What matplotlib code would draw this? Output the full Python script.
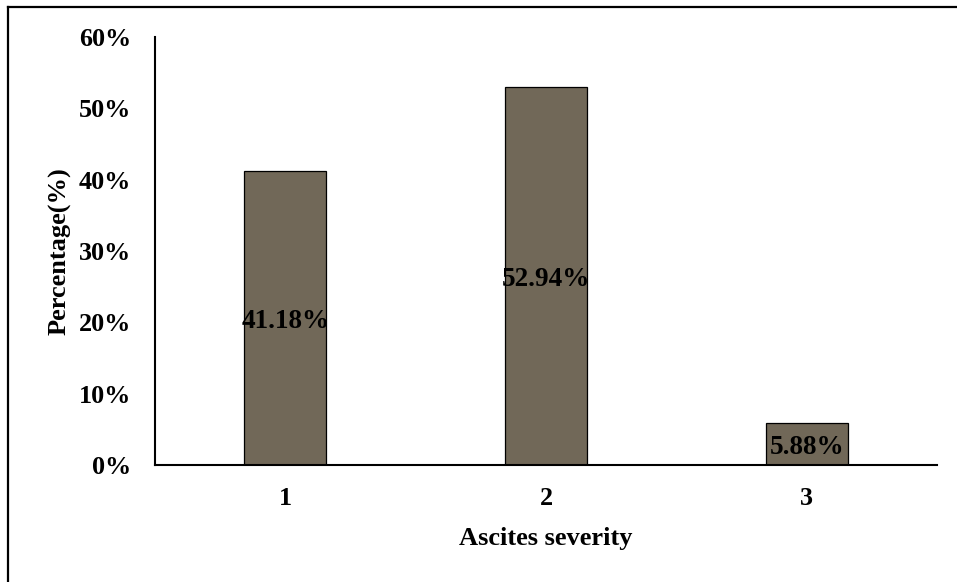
import matplotlib
matplotlib.use("Agg")
import matplotlib.pyplot as plt
from matplotlib.lines import Line2D
from matplotlib.ticker import FuncFormatter

categories = ["1", "2", "3"]
percentages = [41.18, 52.94, 5.88]
y_ticks = [0, 10, 20, 30, 40, 50, 60]

plt.rcParams["font.family"] = ["Liberation Serif", "DejaVu Serif"]
plt.rcParams["font.weight"] = "bold"

fig = plt.figure(figsize=(9.57, 5.82), dpi=100)
ax = fig.add_axes([155 / 957, 1 - 465 / 582, (937 - 155) / 957, (465 - 37) / 582])

x = range(len(categories))
bars = ax.bar(x, percentages, width=0.315, color="#716858",
              edgecolor="black", linewidth=0.9, zorder=2)

for rect, val in zip(bars, percentages):
    ax.text(rect.get_x() + rect.get_width() / 2, val / 2, f"{val:.2f}%",
            ha="center", va="center_baseline", fontsize=19.5, fontweight="bold",
            color="black", zorder=3)

ax.set_xlim(-0.5, 2.5)
ax.set_ylim(0, 60)
ax.set_xticks(list(x))
ax.set_xticklabels(categories)
ax.set_yticks(y_ticks)
ax.yaxis.set_major_formatter(FuncFormatter(lambda v, p: f"{v:.0f}%"))
ax.tick_params(axis="both", length=0, labelsize=18.8)
ax.tick_params(axis="y", pad=17)
ax.tick_params(axis="x", pad=16)
for lab in ax.get_xticklabels() + ax.get_yticklabels():
    lab.set_fontweight("bold")

for side in ("top", "right"):
    ax.spines[side].set_visible(False)
for side in ("left", "bottom"):
    ax.spines[side].set_linewidth(1.5)
    ax.spines[side].set_color("black")

ax.set_xlabel("Ascites severity", fontsize=19, fontweight="bold")
ax.set_ylabel("Percentage(%)", fontsize=19, fontweight="bold")
ax.xaxis.set_label_coords(0.5, (465 - 538) / 428)
ax.yaxis.label.set_va("center")
ax.xaxis.label.set_va("center")
ax.yaxis.set_label_coords((60 - 155) / 782, 0.5)

# outer frame around the chart area
W, H = 957, 582
fig.add_artist(Line2D([8 / W, 8 / W], [1 - 7 / H, 0], transform=fig.transFigure,
                      color="black", linewidth=1.6))
fig.add_artist(Line2D([8 / W, 1.0], [1 - 7 / H, 1 - 7 / H], transform=fig.transFigure,
                      color="black", linewidth=1.6))

fig.savefig("out.png", dpi=100, facecolor="white")
